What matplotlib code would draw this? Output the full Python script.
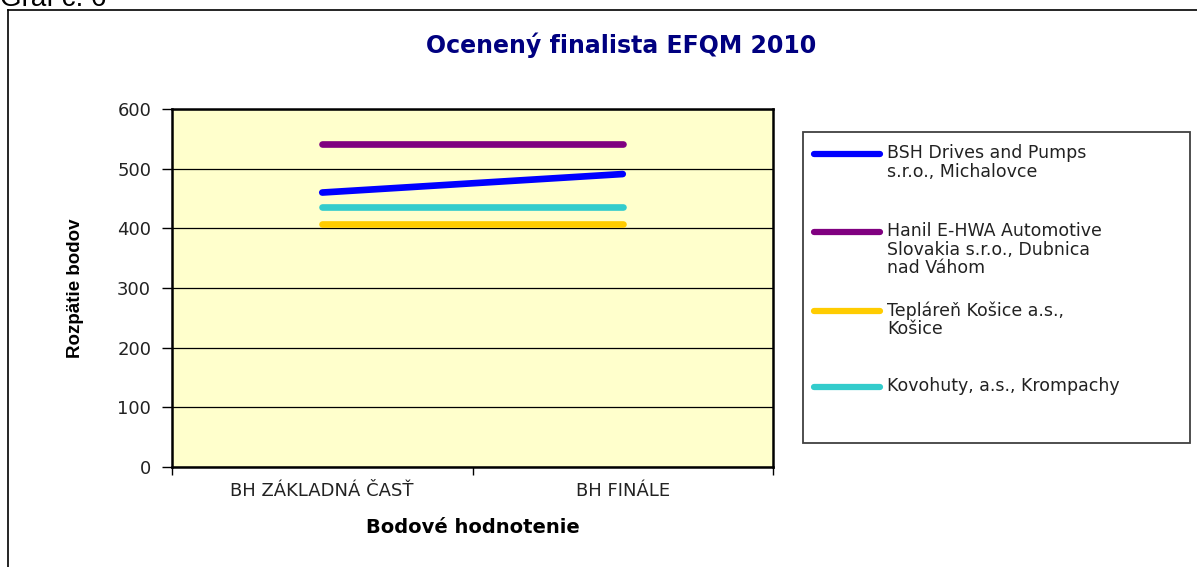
import matplotlib.pyplot as plt
from matplotlib.lines import Line2D
from matplotlib.patches import Rectangle

plt.rcParams['font.family'] = ['DejaVu Sans']

categories = ["BH ZÁKLADNÁ ČASŤ", "BH FINÁLE"]
series_names = [
    "BSH Drives and Pumps\ns.r.o., Michalovce",
    "Hanil E-HWA Automotive\nSlovakia s.r.o., Dubnica\nnad Váhom",
    "Tepláreň Košice a.s.,\nKošice",
    "Kovohuty, a.s., Krompachy",
]
series_values = [
    [460, 491],
    [541, 541],
    [408, 408],
    [436, 436],
]
colors = ["#0000FF", "#800080", "#FFCC00", "#33CCCC"]
y_ticks = [0, 100, 200, 300, 400, 500, 600]

W, H = 1197, 567
fig = plt.figure(figsize=(W / 100, H / 100), dpi=100)

def fx(px):
    return px / W

def fy(py):
    return 1 - py / H

# outer chart frame (cut by the page edge on right and bottom)
fig.add_artist(Line2D([fx(8), fx(8)], [0, fy(10)], color="black", lw=1.2, transform=fig.transFigure))
fig.add_artist(Line2D([fx(8), 1], [fy(10), fy(10)], color="black", lw=1.2, transform=fig.transFigure))
fig.text(fx(0), fy(6), "Graf č. 6", fontsize=20, va="baseline", ha="left",
         family=["Liberation Sans", "DejaVu Sans"])

ax = fig.add_axes([fx(172), fy(467), fx(773) - fx(172), fy(109) - fy(467)])
ax.set_facecolor("#FFFFCC")

x = list(range(len(categories)))
for vals, c in zip(series_values, colors):
    ax.plot(x, vals, color=c, lw=4.8, solid_capstyle="round", zorder=3)

ax.set_xlim(-0.5, len(categories) - 0.5)
ax.set_ylim(0, 600)
ax.set_yticks(y_ticks)
ax.set_yticklabels([str(v) for v in y_ticks], fontsize=13, color="#222222")
ax.grid(axis="y", color="black", lw=0.9)
ax.set_axisbelow(True)

ax.set_xticks([i - 0.5 for i in range(len(categories) + 1)])
ax.set_xticklabels([])
ax.set_xticks(x, minor=True)
ax.set_xticklabels(categories, minor=True, fontsize=13, color="#222222")
ax.tick_params(axis="x", which="minor", length=0, pad=11)
ax.tick_params(axis="x", which="major", direction="out", length=6, width=1)
ax.tick_params(axis="y", direction="out", length=7, width=1, pad=8)

for s in ax.spines.values():
    s.set_linewidth(1.8)
    s.set_color("black")

ax.set_xlabel("Bodové hodnotenie", fontsize=14, fontweight="bold", labelpad=13)
ax.set_ylabel("Rozpätie bodov", fontsize=13.5, fontweight="bold",
              family=["Liberation Sans"], labelpad=24)

fig.text(fx(621), fy(45), "Ocenený finalista EFQM 2010", fontsize=17,
         fontweight="bold", color="#000080", ha="center", va="center")

# legend box
fig.add_artist(Rectangle((fx(803), fy(443)), fx(1190) - fx(803), fy(132) - fy(443),
                         transform=fig.transFigure, fill=False, edgecolor="#404040", lw=1.3))
entry_y = [154, 232, 311, 387]
for name, c, ey in zip(series_names, colors, entry_y):
    fig.add_artist(Line2D([fx(814), fx(880)], [fy(ey), fy(ey)], color=c, lw=4.5,
                          solid_capstyle="round", transform=fig.transFigure))
    fig.text(fx(887), fy(ey - 10), name, fontsize=12.5, color="#222222",
             ha="left", va="top", linespacing=1.05)

fig.savefig("out.png", dpi=100, facecolor="white")
